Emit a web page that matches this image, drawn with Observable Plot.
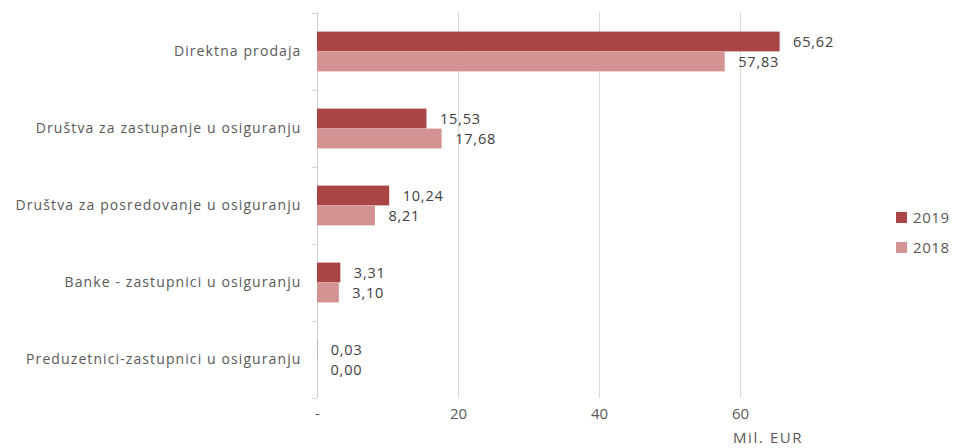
<!DOCTYPE html>
<html>
<head>
<meta charset="utf-8">
<script src="https://cdn.jsdelivr.net/npm/d3@7"></script>
<script src="https://cdn.jsdelivr.net/npm/@observablehq/plot@0.6"></script>
<style>
  body { margin: 0; background: #fff; }
  #wrap { position: relative; width: 954px; height: 448px; font-family: "Open Sans", sans-serif; }
  .leg { position: absolute; left: 896px; font-size: 15px; letter-spacing: 0.6px; color: #595959; display: flex; align-items: center; }
  .leg span.sw { display: inline-block; width: 11px; height: 11px; margin-right: 6px; }
  #unit { position: absolute; left: 733px; top: 427px; font-size: 15px; color: #595959; letter-spacing: 1.6px; }
  g[aria-label="y-axis tick label"] text { letter-spacing: 1.1px; }
  g.vals text { letter-spacing: 0.8px; }
</style>
</head>
<body>
<div id="wrap"></div>
<script>
const categories = [
  "Direktna prodaja",
  "Društva za zastupanje u osiguranju",
  "Društva za posredovanje u osiguranju",
  "Banke - zastupnici u osiguranju",
  "Preduzetnici-zastupnici u osiguranju"
];
const series = ["2019", "2018"];
const values2019 = [65.62, 15.53, 10.24, 3.31, 0.03];
const values2018 = [57.83, 17.68, 8.21, 3.10, 0.00];
const xTicks = [0, 20, 40, 60];
const colors = ["#a94545", "#d49393"];
const unitLabel = "Mil. EUR";

const data = [];
categories.forEach((c, i) => {
  data.push({cat: c, year: "2019", v: values2019[i]});
  data.push({cat: c, year: "2018", v: values2018[i]});
});
const fmt = v => v.toFixed(2).replace(".", ",");

const bandH = (448 - 12 - 50) / categories.length;
const barH = 20;
const outer = (bandH - 2 * barH) / 2;

const chart = Plot.plot({
  width: 954,
  height: 448,
  marginTop: 12,
  marginBottom: 50,
  marginLeft: 317,
  marginRight: 73,
  style: {fontFamily: "Open Sans, sans-serif", background: "#fff"},
  x: {domain: [0, 80], axis: null},
  y: {domain: categories, padding: 0, axis: null},
  marks: [
    Plot.gridX(xTicks.filter(d => d > 0), {stroke: "#d9d9d9", strokeOpacity: 1, strokeWidth: 1}),
    Plot.ruleX([0], {stroke: "#d0d0d0", strokeWidth: 1}),
    Plot.ruleY(categories, {y: d => d, x1: -0.71, x2: 0, dy: -bandH / 2, stroke: "#d0d0d0"}),
    Plot.ruleY(categories.slice(-1), {y: d => d, x1: -0.71, x2: 0, dy: bandH / 2, stroke: "#d0d0d0"}),
    Plot.barX(data.filter(d => d.year === "2019"), {x: "v", y: "cat", fill: colors[0], insetTop: outer, insetBottom: outer + barH}),
    Plot.barX(data.filter(d => d.year === "2018"), {x: "v", y: "cat", fill: colors[1], insetTop: outer + barH, insetBottom: outer}),
    Plot.text(data.filter(d => d.year === "2019"), {x: "v", y: "cat", text: d => fmt(d.v), dx: 13, dy: -barH / 2, textAnchor: "start", fontSize: 14.5, fill: "#404040", className: "vals"}),
    Plot.text(data.filter(d => d.year === "2018"), {x: "v", y: "cat", text: d => fmt(d.v), dx: 13, dy: barH / 2, textAnchor: "start", fontSize: 14.5, fill: "#404040", className: "vals"}),
    Plot.axisY({tickSize: 0, tickPadding: 16, fontSize: 14, color: "#595959", label: null}),
    Plot.axisX(xTicks, {tickSize: 0, tickPadding: 10, fontSize: 15, color: "#595959", tickFormat: d => d === 0 ? "-" : String(d), label: null})
  ]
});
const wrap = document.getElementById("wrap");
wrap.appendChild(chart);

series.forEach((s, i) => {
  const el = document.createElement("div");
  el.className = "leg";
  el.style.top = (207 + i * 30) + "px";
  el.innerHTML = `<span class="sw" style="background:${colors[i]}"></span>${s}`;
  wrap.appendChild(el);
});
const u = document.createElement("div");
u.id = "unit";
u.textContent = unitLabel;
wrap.appendChild(u);
</script>
</body>
</html>
